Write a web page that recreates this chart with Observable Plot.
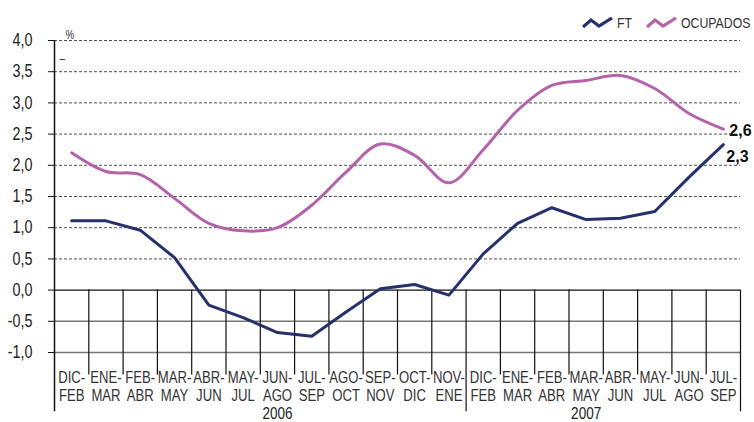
<!DOCTYPE html>
<html>
<head>
<meta charset="utf-8">
<script src="https://cdn.jsdelivr.net/npm/d3@7"></script>
<script src="https://cdn.jsdelivr.net/npm/@observablehq/plot@0.6"></script>
<style>
  html, body { margin: 0; padding: 0; background: #fff; }
  #wrap { position: relative; width: 754px; height: 422px; font-family: "Liberation Sans", Arial, sans-serif; }
  #legend { position: absolute; top: 14px; left: 582px; display: flex; align-items: center; font-size: 15px; color: #333; }
  #legend span.item { display: flex; align-items: center; }
  #legend svg { margin-right: 3px; }
  #legend span.name { display: inline-block; transform: scaleX(0.82); transform-origin: left center; }
</style>
</head>
<body>
<div id="wrap">
  <div id="legend"></div>
  <div id="chart"></div>
</div>
<script>
// Categories (two-month periods)
const periods = ["DIC-\nFEB","ENE-\nMAR","FEB-\nABR","MAR-\nMAY","ABR-\nJUN","MAY-\nJUL","JUN-\nAGO","JUL-\nSEP","AGO-\nOCT","SEP-\nNOV","OCT-\nDIC","NOV-\nENE",
                 "DIC-\nFEB","ENE-\nMAR","FEB-\nABR","MAR-\nMAY","ABR-\nJUN","MAY-\nJUL","JUN-\nAGO","JUL-\nSEP"];
const years = ["2006", "2007"];
const seriesNames = ["FT", "OCUPADOS"];
const seriesColors = ["#26306c", "#b462aa"];
const ft = [1.11, 1.11, 0.96, 0.52, -0.24, -0.44, -0.68, -0.74, -0.35, 0.02, 0.09, -0.08,
            0.58, 1.07, 1.32, 1.13, 1.15, 1.26, 1.81, 2.33];
const ocupados = [2.20, 1.90, 1.85, 1.47, 1.07, 0.95, 1.00, 1.36, 1.89, 2.34, 2.16, 1.72,
                  2.25, 2.88, 3.28, 3.36, 3.44, 3.23, 2.83, 2.58];
const yTicks = [-1, -0.5, 0, 0.5, 1, 1.5, 2, 2.5, 3, 3.5, 4];

const fmt = v => v.toFixed(1).replace(".", ",");
const n = periods.length;
const idx = d3.range(n);
const ftData = idx.map(i => ({i, v: ft[i]}));
const ocData = idx.map(i => ({i, v: ocupados[i]}));
const boundaries = d3.range(1, n).filter(b => b !== 12);
const yearEnds = [12, n];
const yearLabelAt = [6, 15];

const chart = Plot.plot({
  width: 754,
  height: 422,
  marginLeft: 54,
  marginRight: 14,
  marginTop: 40,
  marginBottom: 70,
  style: {fontFamily: '"Liberation Sans", Arial, sans-serif', background: "#fff", overflow: "visible"},
  x: {domain: [-0.5, n - 0.5], axis: null},
  y: {domain: [-1, 4], axis: null},
  marks: [
    // grid lines
    Plot.ruleY(yTicks.filter(t => t > 0), {stroke: "#333", strokeWidth: 1, strokeDasharray: "3,2", strokeOpacity: 0.85}),
    Plot.ruleY(yTicks.filter(t => t < 0), {stroke: "#777", strokeWidth: 1.5}),
    Plot.ruleY([0], {stroke: "#111", strokeWidth: 1.3}),
    // category separators
    Plot.ruleX(boundaries, {x: d => d - 0.5, y1: 0, y2: -1.36, stroke: "#111", strokeWidth: 1.2}),
    Plot.ruleX(yearEnds, {x: d => d - 0.5, y1: 0, y2: -1.95, stroke: "#111", strokeWidth: 1.2}),
    Plot.ruleX([0], {x: d => d - 0.5, y1: -1.95, y2: 4, stroke: "#111", strokeWidth: 1.5}),
    // y axis
    Plot.axisY({ticks: yTicks, tickFormat: fmt, label: null, tickSize: 6, tickPadding: 16, fontSize: 17.5, stroke: "#111", color: "#222"}),
    // category labels
    Plot.text(idx, {x: d => d, text: d => periods[d], frameAnchor: "bottom", lineAnchor: "top", dy: 17, fontSize: 16, lineHeight: 1.15, fill: "#333"}),
    Plot.text(years, {x: (d, i) => yearLabelAt[i], text: d => d, frameAnchor: "bottom", lineAnchor: "top", dy: 54.5, fontSize: 16.5, fill: "#222"}),
    // series
    Plot.line(ocData, {x: "i", y: "v", stroke: seriesColors[1], strokeWidth: 3, curve: "catmull-rom"}),
    Plot.line(ftData, {x: "i", y: "v", stroke: seriesColors[0], strokeWidth: 3}),
    // end labels
    Plot.text([ocData[n - 1]], {x: "i", y: "v", text: d => fmt(d.v), textAnchor: "start", dx: 6, dy: 2, fontSize: 16, fontWeight: "bold", fill: "#111"}),
    Plot.text([ftData[n - 1]], {x: "i", y: "v", text: d => fmt(d.v), textAnchor: "start", dx: 3, dy: 12, fontSize: 16, fontWeight: "bold", fill: "#111"}),
    // unit marks
    Plot.text(["%"], {frameAnchor: "top-left", dx: 11, dy: -10, text: d => d, fontSize: 12, fill: "#333"}),
    Plot.text(["–"], {frameAnchor: "top-left", dx: 5, dy: 14, text: d => d, fontSize: 12, fill: "#333"})
  ]
});
document.getElementById("chart").appendChild(chart);

// Condense non-bold texts horizontally (narrow typeface look)
chart.querySelectorAll("text").forEach(t => {
  if (t.closest('[font-weight="bold"]')) return;
  const x = +t.getAttribute("x") || 0;
  t.removeAttribute("x");
  const tr = t.getAttribute("transform") || "";
  t.setAttribute("transform", `${tr} translate(${x},0) scale(0.82,1)`);
});

// Legend
const legend = document.getElementById("legend");
seriesNames.forEach((name, k) => {
  const item = document.createElement("span");
  item.className = "item";
  item.innerHTML = `<svg width="32" height="12" viewBox="0 0 32 12"><path d="M1,10 L9,3 L17,9 L30,1" fill="none" stroke="${seriesColors[k]}" stroke-width="3.2"/></svg><span class="name">${name}</span>`;
  item.style.width = k === 0 ? "64px" : "auto";
  legend.appendChild(item);
});
</script>
</body>
</html>
